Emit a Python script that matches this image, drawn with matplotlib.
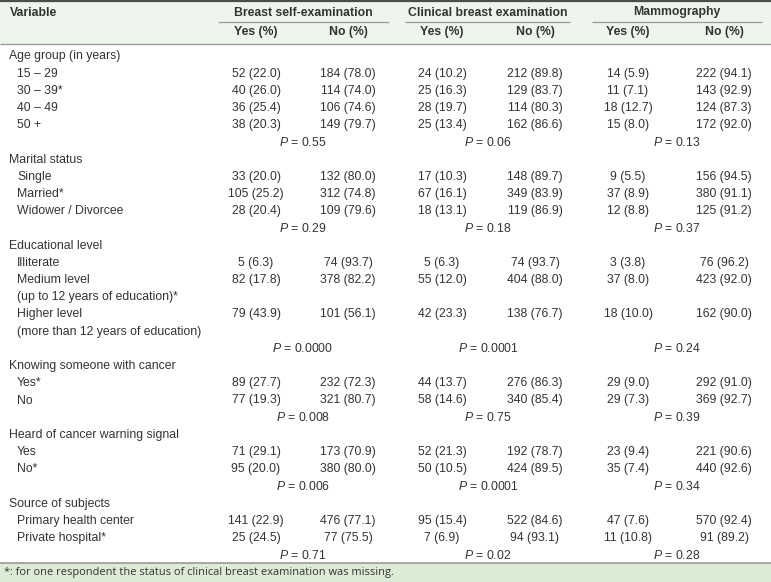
import matplotlib
matplotlib.use("Agg")
import matplotlib.pyplot as plt
from matplotlib.patches import Rectangle

# ---------------- data ----------------
groups = ["Age group (in years)", "Marital status", "Educational level",
          "Knowing someone with cancer", "Heard of cancer warning signal",
          "Source of subjects"]
items = [
    ["15 \u2013 29", "30 \u2013 39*", "40 \u2013 49", "50 +"],
    ["Single", "Married*", "Widower / Divorcee"],
    ["Illiterate", "Medium level\n(up to 12 years of education)*",
     "Higher level\n(more than 12 years of education)"],
    ["Yes*", "No"],
    ["Yes", "No*"],
    ["Primary health center", "Private hospital*"],
]
bse_yes_n = [52, 40, 36, 38, 33, 105, 28, 5, 82, 79, 89, 77, 71, 95, 141, 25]
bse_yes_p = [22.0, 26.0, 25.4, 20.3, 20.0, 25.2, 20.4, 6.3, 17.8, 43.9, 27.7, 19.3, 29.1, 20.0, 22.9, 24.5]
bse_no_n = [184, 114, 106, 149, 132, 312, 109, 74, 378, 101, 232, 321, 173, 380, 476, 77]
bse_no_p = [78.0, 74.0, 74.6, 79.7, 80.0, 74.8, 79.6, 93.7, 82.2, 56.1, 72.3, 80.7, 70.9, 80.0, 77.1, 75.5]
cbe_yes_n = [24, 25, 28, 25, 17, 67, 18, 5, 55, 42, 44, 58, 52, 50, 95, 7]
cbe_yes_p = [10.2, 16.3, 19.7, 13.4, 10.3, 16.1, 13.1, 6.3, 12.0, 23.3, 13.7, 14.6, 21.3, 10.5, 15.4, 6.9]
cbe_no_n = [212, 129, 114, 162, 148, 349, 119, 74, 404, 138, 276, 340, 192, 424, 522, 94]
cbe_no_p = [89.8, 83.7, 80.3, 86.6, 89.7, 83.9, 86.9, 93.7, 88.0, 76.7, 86.3, 85.4, 78.7, 89.5, 84.6, 93.1]
mam_yes_n = [14, 11, 18, 15, 9, 37, 12, 3, 37, 18, 29, 29, 23, 35, 47, 11]
mam_yes_p = [5.9, 7.1, 12.7, 8.0, 5.5, 8.9, 8.8, 3.8, 8.0, 10.0, 9.0, 7.3, 9.4, 7.4, 7.6, 10.8]
mam_no_n = [222, 143, 124, 172, 156, 380, 125, 76, 423, 162, 292, 369, 221, 440, 570, 91]
mam_no_p = [94.1, 92.9, 87.3, 92.0, 94.5, 91.1, 91.2, 96.2, 92.0, 90.0, 91.0, 92.7, 90.6, 92.6, 92.4, 89.2]
p_bse = ["0.55", "0.29", "0.0000", "0.008", "0.006", "0.71"]
p_cbe = ["0.06", "0.18", "0.0001", "0.75", "0.0001", "0.02"]
p_mam = ["0.13", "0.37", "0.24", "0.39", "0.34", "0.28"]
methods = ["Breast self-examination", "Clinical breast examination", "Mammography"]
footnote = "*: for one respondent the status of clinical breast examination was missing."

# ---------------- layout ----------------
W, H = 771, 582
plt.rcParams['font.family'] = ['Liberation Sans', 'DejaVu Sans']
plt.rcParams['mathtext.fontset'] = 'custom'
plt.rcParams['mathtext.it'] = 'Liberation Sans:italic'
plt.rcParams['mathtext.rm'] = 'Liberation Sans'

fig = plt.figure(figsize=(W / 100, H / 100), dpi=100)
ax = fig.add_axes([0, 0, 1, 1])
ax.set_xlim(0, W)
ax.set_ylim(H, 0)
ax.axis('off')

TXT = '#333333'
FS = 8.8
group_cx = [303, 488, 677]
col_cx = [256, 348, 442, 535, 628, 724]
spans = [(218, 389), (405, 570), (592, 762)]

# header
ax.add_patch(Rectangle((0, 0), W, 44, facecolor='#eef5ec', edgecolor='none', zorder=0))
ax.plot([0, W], [1, 1], color='#4d4d4d', lw=1.6, solid_capstyle='butt')
ax.plot([0, W], [44, 44], color='#9a9a9a', lw=1.0, solid_capstyle='butt')
ax.text(10, 12.5, "Variable", ha='left', va='center', fontsize=FS, fontweight='bold', color=TXT)
for m, cx, (x0, x1) in zip(methods, group_cx, spans):
    ax.text(cx, 12.5, m, ha='center', va='center', fontsize=FS, fontweight='bold', color=TXT)
    ax.plot([x0, x1], [21.5, 21.5], color='#9a9a9a', lw=0.9, solid_capstyle='butt')
for i, cx in enumerate(col_cx):
    ax.text(cx, 32.5, "Yes (%)" if i % 2 == 0 else "No (%)", ha='center', va='center',
            fontsize=FS, fontweight='bold', color=TXT)

# body
cols = [(bse_yes_n, bse_yes_p), (bse_no_n, bse_no_p), (cbe_yes_n, cbe_yes_p),
        (cbe_no_n, cbe_no_p), (mam_yes_n, mam_yes_p), (mam_no_n, mam_no_p)]
pvals = [p_bse, p_cbe, p_mam]
y0, step = 56.5, 17.2
line = 0
r = 0
for g, (gname, its) in enumerate(zip(groups, items)):
    ax.text(9, y0 + line * step, gname, ha='left', va='center', fontsize=FS, color=TXT)
    line += 1
    for it in its:
        y = y0 + line * step
        parts = it.split("\n")
        for k, pt in enumerate(parts):
            ax.text(17, y + k * step, pt, ha='left', va='center', fontsize=FS, color=TXT)
        for cx, (ns, ps) in zip(col_cx, cols):
            ax.text(cx, y, f"{ns[r]} ({ps[r]:.1f})", ha='center', va='center', fontsize=FS, color=TXT)
        r += 1
        line += len(parts)
    y = y0 + line * step
    for cx, pv in zip(group_cx, pvals):
        ax.text(cx, y, f"$P$ = {pv[g]}", ha='center', va='center', fontsize=FS, color=TXT)
    line += 1

# footer
ax.add_patch(Rectangle((0, 563), W, H - 563, facecolor='#dbebd5', edgecolor='none', zorder=0))
ax.plot([0, W], [563, 563], color='#9a9a9a', lw=1.2, solid_capstyle='butt')
ax.text(4, 573, footnote, ha='left', va='center', fontsize=7.9, color=TXT,
        family=['Open Sans', 'DejaVu Sans'])

fig.savefig("out.png", dpi=100)
